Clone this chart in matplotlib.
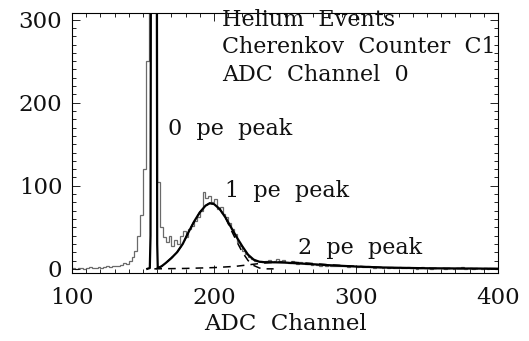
import numpy as np
import matplotlib
matplotlib.use('Agg')
import matplotlib.pyplot as plt
from matplotlib.ticker import MultipleLocator

# histogram: 2-channel bins from 100 to 400
bin_edges = np.arange(100, 402, 2)
counts = [
    1, 0, 1, 1, 0, 1, 2, 1, 1, 2, 1, 2, 3, 2, 3,                  # 100-128
    4, 3, 5, 7, 6, 10, 14, 22, 40, 65, 120, 250, 600, 800, 420,  # 130-158
    105, 50, 38, 32, 40, 28, 35, 30, 40, 45, 38, 48, 52, 58, 62, 70, 92, 85, 88, 80,  # 160-198
    84, 72, 75, 66, 62, 55, 48, 42, 32, 28, 22, 18, 14, 12, 10, 9, 10, 8, 9, 11,      # 200-238
    8, 10, 12, 9, 11, 8, 7, 9, 8, 6, 8, 7, 6, 7, 5, 6, 5, 4, 5, 4,                    # 240-278
    5, 3, 4, 4, 3, 4, 3, 2, 3, 3, 2, 3, 2, 2, 3, 2, 1, 2, 2, 1,                       # 280-318
    2, 1, 2, 1, 1, 2, 1, 1, 2, 1, 1, 0, 1, 2, 1, 1, 0, 1, 1, 1,                       # 320-358
    1, 0, 1, 1, 0, 1, 1, 2, 0, 1, 1, 0, 1, 1, 0, 1, 0, 1, 1, 0,                       # 360-398
]

# total fit (0 pe + 1 pe + 2 pe)
fit_x = [153, 154.8, 155.3, 155.6, 157.8, 159.7, 160.0, 160.4, 163, 166, 170, 174, 178,
         182, 186, 190, 194, 197, 200, 204, 208, 212, 216, 220, 224, 228, 232, 236, 240,
         250, 260, 270, 280, 300, 320, 350, 400]
fit_y = [0, 1, 40, 400, 1500, 400, 30, 1, 3, 7, 13, 20, 30,
         44, 57, 68, 76, 79, 78, 72, 62, 50, 38, 27, 17, 11, 8.5, 8, 8,
         7.5, 6.5, 5.5, 4.5, 2.8, 1.6, 0.7, 0.2]

# 1 pe gaussian (dashed)
pe1_x = [159, 163, 166, 170, 174, 178, 182, 186, 190, 194, 197, 200, 204, 208, 212,
         216, 220, 224, 228, 232, 236, 242]
pe1_y = [0, 3, 7, 13, 20, 30, 44, 57, 68, 76, 79, 78, 72, 62, 47,
         33, 20, 10, 4, 1, 0, 0]

# 2 pe gaussian (dashed)
pe2_x = [158, 180, 200, 215, 225, 235, 245, 255, 265, 280, 300, 320, 350, 400]
pe2_y = [0, 0.5, 1.5, 3, 5, 7, 8, 8, 7, 5, 3, 1.5, 0.6, 0.1]

labels = ["Helium  Events", "Cherenkov  Counter  C1", "ADC  Channel  0"]
peak_labels = ["0  pe  peak", "1  pe  peak", "2  pe  peak"]
peak_pos = [(167.6, 168), (207.7, 94), (259.2, 25)]

plt.rcParams['font.family'] = ['DejaVu Serif']
fig = plt.figure(figsize=(5.29, 3.41), dpi=100)
ax = fig.add_axes([0.1361, 0.1994, 0.8053, 0.7625])

ax.stairs(counts, bin_edges, color='#6a6a6a', linewidth=0.9)
ax.plot(fit_x, fit_y, color='black', linewidth=1.6)
ax.plot(pe1_x, pe1_y, color='black', linewidth=1.1, linestyle=(0, (5, 4)))
ax.plot(pe2_x, pe2_y, color='black', linewidth=1.1, linestyle=(0, (5, 4)))

ax.set_xlim(100, 400)
ax.set_ylim(-5, 308)
ax.xaxis.set_major_locator(MultipleLocator(100))
ax.xaxis.set_minor_locator(MultipleLocator(10))
ax.yaxis.set_major_locator(MultipleLocator(100))
ax.yaxis.set_minor_locator(MultipleLocator(10))
ax.tick_params(which='both', direction='in', top=True, right=True, width=0.6,
               labelsize=16.5, labelcolor='#111111')
ax.tick_params(which='major', length=6)
ax.tick_params(which='minor', length=3)
ax.tick_params(axis='x', pad=10)
ax.tick_params(axis='y', pad=7)
for sp in ax.spines.values():
    sp.set_linewidth(0.8)

ax.set_xlabel("ADC  Channel", fontsize=16.5, labelpad=3, color='#111111')

for i, txt in enumerate(labels):
    ax.text(205.6, 300 - i * 33.5, txt, fontsize=16, ha='left', va='center',
            color='#111111')
for txt, (x, y) in zip(peak_labels, peak_pos):
    ax.text(x, y, txt, fontsize=16, ha='left', va='center', color='#111111')

fig.savefig("out.png", dpi=100)
